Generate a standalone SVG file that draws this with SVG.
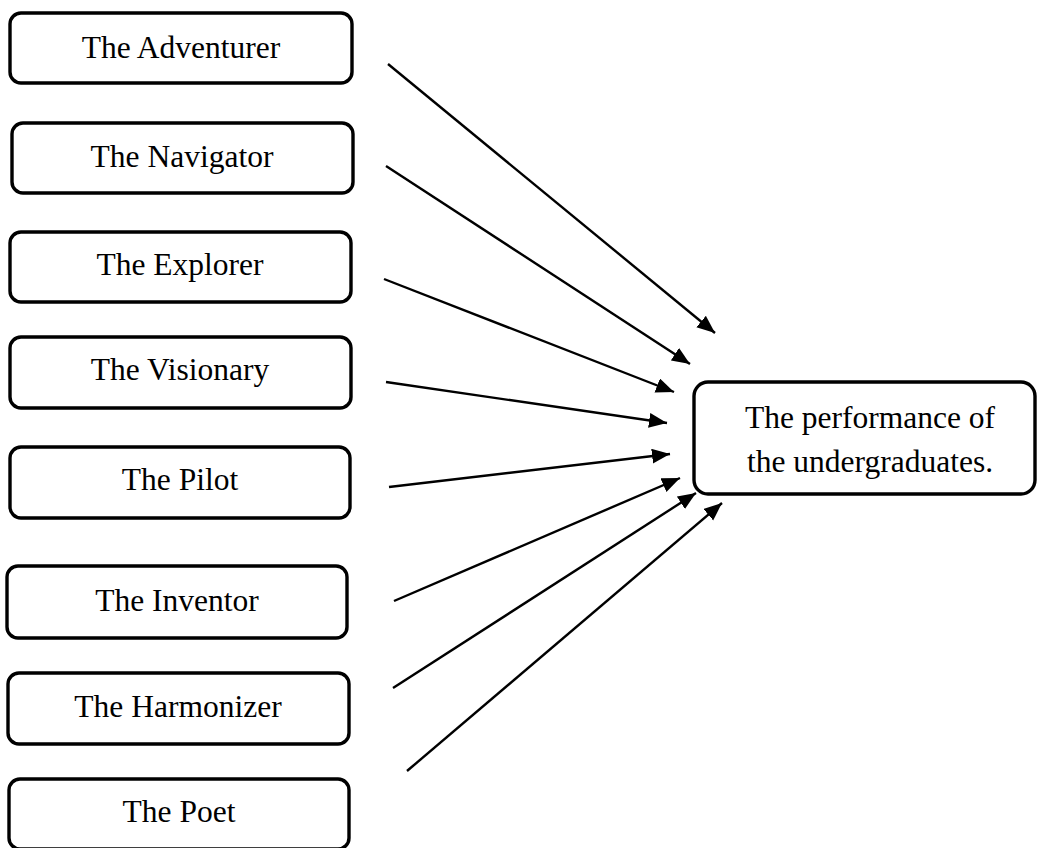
<svg xmlns="http://www.w3.org/2000/svg" width="1038" height="848" viewBox="0 0 1038 848">
<style>
.box{fill:#fff;stroke:#000;stroke-width:3.4}
.lbl{font-family:"Liberation Serif","Times New Roman",serif;font-size:31.5px;fill:#000;text-anchor:middle}
.edge{stroke:#000;stroke-width:2.4;fill:none;marker-end:url(#ah)}
</style>
<defs>
<marker id="ah" markerUnits="userSpaceOnUse" markerWidth="20" markerHeight="16" refX="18" refY="7.5" orient="auto">
<path d="M0,0 L18,7.5 L0,15 z" fill="#000"/>
</marker>
</defs>
<rect width="1038" height="848" fill="#fff"/>
<g id="n1"><rect class="box" x="10" y="13" width="342" height="70" rx="11"/><text class="lbl" x="181" y="58">The Adventurer</text></g>
<g id="n2"><rect class="box" x="12" y="123" width="341" height="70" rx="11"/><text class="lbl" x="182" y="167">The Navigator</text></g>
<g id="n3"><rect class="box" x="10" y="232" width="341" height="70" rx="11"/><text class="lbl" x="180" y="275">The Explorer</text></g>
<g id="n4"><rect class="box" x="10" y="337" width="341" height="71" rx="11"/><text class="lbl" x="180" y="380">The Visionary</text></g>
<g id="n5"><rect class="box" x="10" y="447" width="340" height="71" rx="11"/><text class="lbl" x="180" y="490">The Pilot</text></g>
<g id="n6"><rect class="box" x="7" y="566" width="340" height="72" rx="11"/><text class="lbl" x="177" y="611">The Inventor</text></g>
<g id="n7"><rect class="box" x="8" y="673" width="341" height="71" rx="11"/><text class="lbl" x="178" y="717">The Harmonizer</text></g>
<g id="n8"><rect class="box" x="9" y="779" width="340" height="70" rx="11"/><text class="lbl" x="179" y="822">The Poet</text></g>
<g id="target"><rect class="box" x="694" y="382" width="341" height="112" rx="14"/><text class="lbl" x="870" y="428">The performance of</text><text class="lbl" x="870" y="472">the undergraduates.</text></g>
<g id="connectors">
<line class="edge" x1="388" y1="64" x2="715" y2="333"/>
<line class="edge" x1="386" y1="166" x2="690" y2="364"/>
<line class="edge" x1="384" y1="279" x2="674" y2="392"/>
<line class="edge" x1="386" y1="382" x2="667" y2="423"/>
<line class="edge" x1="389" y1="487" x2="670" y2="454"/>
<line class="edge" x1="394" y1="601" x2="680" y2="478"/>
<line class="edge" x1="393" y1="688" x2="696" y2="493"/>
<line class="edge" x1="407" y1="771" x2="722" y2="503"/>
</g>
</svg>
